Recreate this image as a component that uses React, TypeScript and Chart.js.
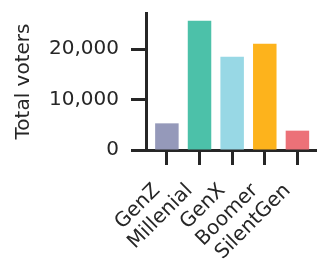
import React, { useEffect, useRef } from "react";
import { Chart, registerables } from "chart.js";

Chart.register(...registerables);

const categories = ["GenZ", "Millenial", "GenX", "Boomer", "SilentGen"];
const totalVoters = [5280, 25600, 18480, 21050, 3830];
const barColors = ["#9599ba", "#4cc1a9", "#98d8e5", "#fdb31c", "#ec7178"];
const yTicks = [0, 10000, 20000];

export default function App() {
  const ref = useRef<HTMLCanvasElement | null>(null);
  useEffect(() => {
    if (!ref.current) return;
    const ink = "#262626";
    const font = { family: "DejaVu Sans", size: 20 };
    const chart = new Chart(ref.current, {
      type: "bar",
      data: {
        datasets: [
          {
            data: totalVoters.map((v, i) => ({ x: i, y: v })),
            backgroundColor: barColors,
            borderWidth: 0,
            barPercentage: 0.72,
            categoryPercentage: 1,
          },
        ],
      },
      options: {
        animation: false,
        responsive: false,
        maintainAspectRatio: false,
        layout: { padding: { top: 13, left: 0, right: 0, bottom: 0 }, autoPadding: false },
        datasets: { bar: { barPercentage: 0.72, categoryPercentage: 1 } },
        plugins: { legend: { display: false }, tooltip: { enabled: false } },
        scales: {
          x: {
            type: "linear",
            offset: false,
            min: -0.64,
            max: 4.6,
            afterBuildTicks: (s: any) => {
              s.ticks = categories.map((_, i) => ({ value: i }));
            },
            afterFit: (s: any) => {
              s.height = 109;
              s.paddingLeft = 0;
              s.paddingRight = 0;
            },
            ticks: {
              callback: (v: any) => categories[v as number] ?? "",
              minRotation: 45,
              maxRotation: 45,
              autoSkip: false,
              padding: 14,
              labelOffset: -10,
              color: ink,
              font,
            },
            grid: {
              display: true,
              offset: false,
              drawOnChartArea: false,
              drawTicks: true,
              tickLength: 15,
              tickWidth: 3,
              tickColor: ink,
            },
            border: { display: true, width: 3, color: ink },
          },
          y: {
            min: 0,
            max: 27130,
            afterBuildTicks: (s: any) => {
              s.ticks = yTicks.map((v) => ({ value: v }));
            },
            afterFit: (s: any) => {
              s.width = 146;
              s.paddingTop = 0;
              s.paddingBottom = 0;
            },
            ticks: {
              callback: (v: any) => Number(v).toLocaleString("en-US"),
              padding: 12,
              color: ink,
              font,
            },
            grid: {
              display: true,
              drawOnChartArea: false,
              drawTicks: true,
              tickLength: 15,
              tickWidth: 3,
              tickColor: ink,
            },
            border: { display: true, width: 3, color: ink },
            title: {
              display: true,
              text: "Total voters",
              color: ink,
              font,
              padding: { top: 12, bottom: 0 },
            },
          },
        },
      },
    });
    return () => chart.destroy();
  }, []);
  return (
    <div style={{ position: "fixed", left: 0, top: 0, width: 317, height: 259, background: "#fff" }}>
      <canvas ref={ref} width={317} height={259} style={{ width: 317, height: 259 }} />
    </div>
  );
}
